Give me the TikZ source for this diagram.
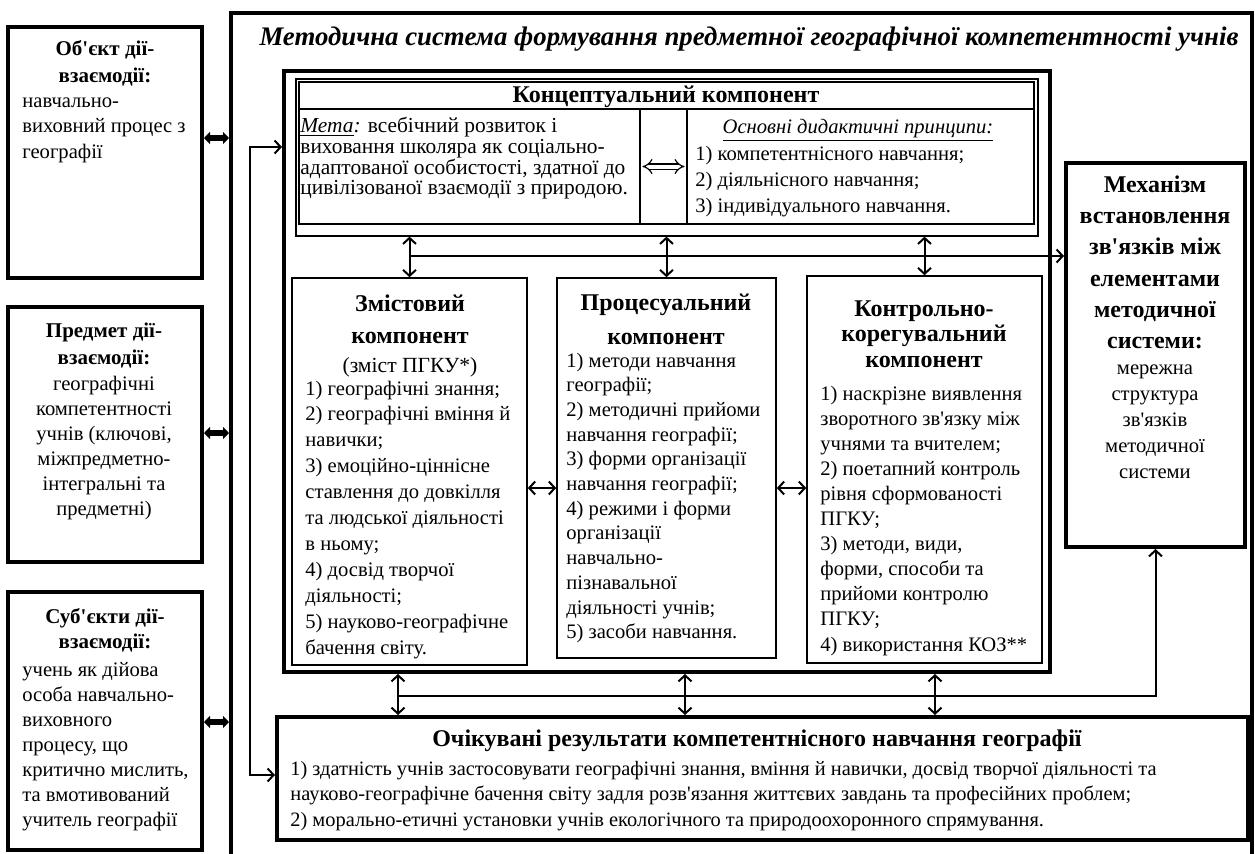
\documentclass[tikz,border=0pt]{standalone}
\usepackage{fontspec}
\setmainfont{Liberation Serif}
\usetikzlibrary{arrows.meta, fit, calc}
\newcommand{\fsz}[2]{\fontsize{#1}{#2}\selectfont}
\newcommand{\ap}{\textquotesingle}
\tikzset{
  frame/.style   = {draw, line width=2pt, inner sep=0pt},
  panel/.style   = {draw, line width=0.8pt, inner sep=0pt},
  rule/.style    = {draw, line width=0.6pt, inner sep=0pt},
  heading/.style = {font=\fsz{12}{16}\bfseries, align=center, inner sep=0pt},
  body/.style    = {font=\fsz{10.3}{12.9}, align=left, inner sep=0pt},
  lift/.style    = {execute at begin node={\vrule width 0pt height 0.75em\relax}},
  link/.style    = {-{Straight Barb[length=3pt,width=6.5pt]}, line width=1pt},
  biflow/.style  = {{Straight Barb[length=3pt,width=6.5pt]}-{Straight Barb[length=3pt,width=6.5pt]},
                    line width=1pt},
  fat/.style     = {{Triangle[length=3pt,width=6pt]}-{Triangle[length=3pt,width=6pt]},
                    line width=3pt},
  twin/.style    = {double, double distance=2pt, line width=0.6pt, {Implies}-{Implies}}
}

\begin{document}
\begin{tikzpicture}[x=0.5pt, y=-0.5pt]
\useasboundingbox[fill=white] (0,0) rectangle (1255,853);

% Outer frame and title
\node[frame, fit={(231,13) (1252,870)}] (frame) {};
\node[font=\fsz{13.4}{15}\bfseries\itshape, inner sep=0pt, anchor=base] (title) at (749,45.5)
  {Методична система формування предметної географічної компетентності учнів};

% Left column
\node[frame, fit={(8,27) (202,278)}] (obj) {};
\node[heading, lift, font=\fsz{10.5}{13.5}\bfseries, anchor=north] (objhead) at (105,40)
  {Об\ap{}єкт дії-\\взаємодії:};
\node[body, lift, font=\fsz{10.3}{12.75}, anchor=north west] (objtext) at (22,97.3)
  {навчально-\\виховний процес з\\географії};

\node[frame, fit={(8,307) (202,562)}] (subj) {};
\node[heading, lift, font=\fsz{10.5}{13.5}\bfseries, anchor=north] (subjhead) at (104,323)
  {Предмет дії-\\взаємодії:};
\node[body, lift, font=\fsz{10.3}{12.5}, align=center, anchor=north] (subjtext) at (104,375.3)
  {географічні\\компетентності\\учнів (ключові,\\міжпредметно-\\інтегральні та\\предметні)};

\node[frame, fit={(8,592) (202,850)}] (actors) {};
\node[heading, lift, font=\fsz{10.5}{12.5}\bfseries, anchor=north] (actorshead) at (105,608)
  {Суб\ap{}єкти дії-\\взаємодії:};
\node[body, lift, font=\fsz{10.3}{12.5}, anchor=north west] (actorstext) at (22,662.3)
  {учень як дійова\\особа навчально-\\виховного\\процесу, що\\критично мислить,\\та вмотивований\\учитель географії};

% Core of the system
\node[frame, fit={(284,71) (1050,672)}] (core) {};

% Conceptual component
\node[rule, fit={(296,79) (1038,236)}] (conceptout) {};
\node[rule, fit={(299,82) (1034,224)}] (conceptin) {};
\coordinate (headline) at (0,109);
\draw[line width=0.6pt] (headline -| conceptin.west) -- (headline -| conceptin.east);
\node[rule, fit={(640,109) (687,224)}] (bridge) {};
\node[heading, anchor=base] (concepthead) at (666,102.5) {Концептуальний компонент};
\node[body, lift, font=\fsz{10.7}{10.35}, anchor=north west] (goal) at (300,117)
  {\underline{\textit{Мета}}\textit{:} всебічний розвиток і\\виховання школяра як соціально-\\адаптованої особистості, здатної до\\цивілізованої взаємодії з природою.};
\node[body, anchor=base] (princhead) at (858,133.5)
  {\underline{\textit{Основні дидактичні принципи:}}};
\node[body, lift, font=\fsz{10.3}{13}, anchor=north west] (princ) at (695,145.3)
  {1) компетентнісного навчання;\\2) діяльнісного навчання;\\3) індивідуального навчання.};
\draw[twin] ([xshift=1.5pt]bridge.west) -- ([xshift=-1.5pt]bridge.east);

% Content component
\node[panel, fit={(292,278) (527,665)}] (zmist) {};
\node[heading, lift, anchor=north] (zmisthead) at (410,294.5) {Змістовий\\компонент};
\node[body, font=\fsz{10.8}{13}, anchor=base] (zmistnote) at (410,372.7) {(зміст ПГКУ*)};
\node[body, lift, font=\fsz{10.3}{12.95}, anchor=north west] (zmisttext) at (305,380.3)
  {1) географічні знання;\\2) географічні вміння й\\навички;\\3) емоційно-ціннісне\\ставлення до довкілля\\та людської діяльності\\в ньому;\\4) досвід творчої\\діяльності;\\5) науково-географічне\\бачення світу.};

% Process component
\node[panel, fit={(557,278) (776,658)}] (proc) {};
\node[heading, lift, font=\fsz{12}{17}\bfseries, anchor=north] (prochead) at (666,294)
  {Процесуальний\\компонент};
\node[body, lift, font=\fsz{10.3}{12.35}, anchor=north west] (proctext) at (566,352.3)
  {1) методи навчання\\географії;\\2) методичні прийоми\\навчання географії;\\3) форми організації\\навчання географії;\\4) режими і форми\\організації\\навчально-\\пізнавальної\\діяльності учнів;\\5) засоби навчання.};

% Control component
\node[panel, fit={(807,276) (1042,663)}] (ctrl) {};
\node[heading, lift, font=\fsz{12}{12.8}\bfseries, anchor=north] (ctrlhead) at (924,300)
  {Контрольно-\\корегувальний\\компонент};
\node[body, lift, font=\fsz{10.3}{12.55}, anchor=north west] (ctrltext) at (820,385.3)
  {1) наскрізне виявлення\\зворотного зв\ap{}язку між\\учнями та вчителем;\\2) поетапний контроль\\рівня сформованості\\ПГКУ;\\3) методи, види,\\форми, способи та\\прийоми контролю\\ПГКУ;\\4) використання КОЗ**};

% Mechanism of links
\node[frame, fit={(1066,163) (1245,547)}] (mech) {};
\node[heading, lift, font=\fsz{12}{15.6}\bfseries, anchor=north] (mechhead) at (1155,175.5)
  {Механізм\\встановлення\\зв\ap{}язків між\\елементами\\методичної\\системи:};
\node[body, lift, font=\fsz{10.3}{13}, align=center, anchor=north] (mechtext) at (1155,364.3)
  {мережна\\структура\\зв\ap{}язків\\методичної\\системи};

% Expected results
\node[frame, fit={(277,717) (1248,840)}] (results) {};
\node[heading, anchor=base] (resultshead) at (757,746)
  {Очікувані результати компетентнісного навчання географії};
\node[body, lift, font=\fsz{10.2}{12.8}, anchor=north west] (resultstext) at (290,760.8)
  {1) здатність учнів застосовувати географічні знання, вміння й навички, досвід творчої діяльності та\\науково-географічне бачення світу задля розв\ap{}язання життєвих завдань та професійних проблем;\\2) морально-етичні установки учнів екологічного та природоохоронного спрямування.};

% Links
\foreach \n/\y in {obj/138, subj/433, actors/722} {
  \coordinate (t) at (0,\y);
  \draw[fat] (t -| \n.east) -- (t -| frame.west);
}
\foreach \n in {zmist, proc, ctrl}
  \draw[biflow] (\n.north |- conceptout.south) -- (\n.north);
\coordinate (hub) at (409.5,256);
\draw[link] (hub) -- (hub -| mech.west);
\coordinate (row) at (540,488);
\draw[biflow] (row -| zmist.east) -- (row -| proc.west);
\draw[biflow] (row -| proc.east) -- (row -| ctrl.west);
\foreach \x in {398,685,935} {
  \coordinate (a) at (\x,696);
  \draw[biflow] (a |- core.south) -- (a |- results.north);
}
\coordinate (lowhub) at (398,696);
\draw[link] (lowhub) -| (mech.south);
\coordinate (loopup) at (250,147);
\coordinate (loopdn) at (250,775);
\draw[biflow] (loopup -| core.west) -- (loopup) -- (loopdn) -- (loopdn -| results.west);
\end{tikzpicture}
\end{document}
